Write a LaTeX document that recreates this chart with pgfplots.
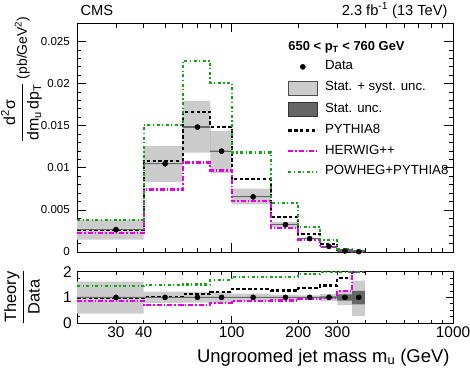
\documentclass[border=0pt]{standalone}
\usepackage{fontspec}
\setmainfont{Liberation Sans}
\usepackage{amsmath}
\usepackage{pgfplots}
\usepackage{pgfplotstable}
\pgfplotsset{compat=1.18}

\definecolor{hwg}{RGB}{230,0,230}
\definecolor{pwg}{RGB}{20,165,20}
\definecolor{syst}{RGB}{204,204,204}
\definecolor{stat}{RGB}{102,102,102}

% MC histograms, one row per bin low edge (last row repeats at 400)
\pgfplotstableread{
edge pythia herwig powheg
20  0.00258 0.00226 0.00377
40  0.01083 0.00742 0.01508
60  0.01663 0.01063 0.02270
80  0.01488 0.00968 0.02012
100 0.00865 0.00603 0.01183
150 0.00417 0.00286 0.00583
200 0.00218 0.00147 0.00298
250 0.00099 0.00060 0.00139
300 0.00028 0.00020 0.00040
350 0.00005 0.00005 0.00010
400 0.00005 0.00005 0.00010
}\mainmc

\pgfplotstableread{
x   y       ex
30  0.00266 10
50  0.01048 10
70  0.01484 10
90  0.01198 10
125 0.00655 25
175 0.00325 25
225 0.00159 25
275 0.00067 25
325 0.00012 25
375 0.00004 25
}\maindata

\pgfplotstableread{
edge pythia herwig powheg
20  0.98  0.86  1.43
40  1.02  0.70  1.48
60  1.12  0.71  1.50
80  1.22  0.79  1.69
100 1.32  0.87  1.80
150 1.27  0.88  1.80
200 1.36  0.93  1.91
250 1.46  0.99  1.975
300 1.74  1.24  1.975
350 1.975 1.975 1.975
400 1.975 1.975 1.975
}\ratiomc

\pgfplotstableread{
x   y ex
30  1 10
50  1 10
70  1 10
90  1 10
125 1 25
175 1 25
225 1 25
275 1 25
325 1 25
375 1 25
}\ratiodata

\begin{document}
\begin{tikzpicture}
\useasboundingbox (0,0) rectangle (470bp,-369bp);

\begin{axis}[at={(77bp,-23bp)}, anchor=north west,
  scale only axis, width=376bp, height=229bp,
  xmode=log, xmin=20, xmax=1000, ymin=0, ymax=0.0272,
  axis line style={line width=0.8bp}, tick style={line width=0.8bp, black},
  tick align=inside, scaled y ticks=false,
  xtick={100,1000}, xticklabels={},
  extra x ticks={30,40,200,300}, extra x tick labels={},
  minor xtick={20,50,60,70,80,90,400,500,600,700,800,900},
  ytick={0,0.005,0.01,0.015,0.02,0.025},
  yticklabels={0,0.005,0.01,0.015,0.02,0.025},
  minor y tick num=4,
  major tick length=9bp, minor tick length=4.5bp,
  extra x tick style={major tick length=4.5bp},
  yticklabel style={font=\fontsize{11.6}{13}\selectfont, inner sep=0pt, xshift=-7bp},
  legend style={at={(axis description cs:0.5585,0.84)}, anchor=north west,
    draw=none, fill=none, inner sep=0pt, row sep=6.7bp, column sep=6.7bp,
    font=\fontsize{13.3}{15}\selectfont,
    nodes={inner sep=0pt, text height=10bp, text depth=4bp}},
  legend cell align=left,
]
% stat. + syst. band: upper edge left to right, lower edge back
\addplot[fill=syst, draw=none, forget plot] coordinates {
  (20,0.00386)(40,0.00386)(40,0.01262)(60,0.01262)(60,0.01794)(80,0.01794)
  (80,0.01440)(100,0.01440)(100,0.00754)(150,0.00754)(150,0.00358)(200,0.00358)
  (200,0.00172)(250,0.00172)(250,0.00076)(300,0.00076)(300,0.00015)(350,0.00015)
  (350,0.00007)(400,0.00007)
  (400,0.00001)(350,0.00001)(350,0.00008)(300,0.00008)(300,0.00058)(250,0.00058)
  (250,0.00146)(200,0.00146)(200,0.00293)(150,0.00293)(150,0.00567)(100,0.00567)
  (100,0.00940)(80,0.00940)(80,0.01179)(60,0.01179)(60,0.00829)(40,0.00829)
  (40,0.00148)(20,0.00148)} -- cycle;
% stat. band
\addplot[fill=stat, draw=none, forget plot] coordinates {
  (20,0.00267)(40,0.00267)(40,0.01052)(60,0.01052)(60,0.01490)(80,0.01490)
  (80,0.01203)(100,0.01203)(100,0.00658)(150,0.00658)(150,0.00327)(200,0.00327)
  (200,0.00160)(250,0.00160)(250,0.00068)(300,0.00068)(300,0.000135)(350,0.000135)
  (350,0.00005)(400,0.00005)
  (400,0.00003)(350,0.00003)(350,0.000105)(300,0.000105)(300,0.00066)(250,0.00066)
  (250,0.00158)(200,0.00158)(200,0.00323)(150,0.00323)(150,0.00652)(100,0.00652)
  (100,0.01193)(80,0.01193)(80,0.01478)(60,0.01478)(60,0.01044)(40,0.01044)
  (40,0.00265)(20,0.00265)} -- cycle;

\addplot[black, line width=2.2bp, dash pattern=on 3.5bp off 2.3bp, const plot, forget plot]
  table[x=edge, y=pythia] {\mainmc};
\addplot[hwg, line width=2.2bp, dash pattern=on 5bp off 2bp on 1.5bp off 2bp, const plot, forget plot]
  table[x=edge, y=herwig] {\mainmc};
\addplot[pwg, line width=2.2bp, dash pattern=on 3bp off 2.5bp on 1.2bp off 2.5bp, const plot, forget plot]
  table[x=edge, y=powheg] {\mainmc};

\addplot[only marks, mark=*, mark size=2.6bp, black, forget plot,
  error bars/.cd, x dir=both, x explicit, error mark=none,
  error bar style={draw=stat, line width=1.2bp}]
  table[x=x, y=y, x error=ex] {\maindata};

\addlegendimage{legend image code/.code={\fill[black] (14.5bp,0bp) circle (2.6bp);}}
\addlegendentry{Data}
\addlegendimage{legend image code/.code={\draw[fill=syst, draw=black!70, line width=0.8bp] (0bp,-7bp) rectangle (29bp,7bp);}}
\addlegendentry{Stat. + syst. unc.}
\addlegendimage{legend image code/.code={\draw[fill=stat, draw=black!80, line width=0.8bp] (0bp,-7bp) rectangle (29bp,7bp);}}
\addlegendentry{Stat. unc.}
\addlegendimage{legend image code/.code={\draw[black, line width=2.2bp, dash pattern=on 3.5bp off 2.3bp] (0bp,0bp) -- (29bp,0bp);}}
\addlegendentry{PYTHIA8}
\addlegendimage{legend image code/.code={\draw[hwg, line width=2.2bp, dash pattern=on 5bp off 2bp on 1.5bp off 2bp] (0bp,0bp) -- (29bp,0bp);}}
\addlegendentry{HERWIG++}
\addlegendimage{legend image code/.code={\draw[pwg, line width=2.2bp, dash pattern=on 3bp off 2.5bp on 1.2bp off 2.5bp] (0bp,0bp) -- (29bp,0bp);}}
\addlegendentry{POWHEG+PYTHIA8}

\node[anchor=base west, font=\bfseries\fontsize{13}{15}\selectfont]
  at (axis description cs:0.553,0.882) {650 < p\textsubscript{T} < 760 GeV};
\end{axis}

\begin{axis}[at={(77bp,-271.7bp)}, anchor=north west,
  scale only axis, width=376bp, height=51.3bp,
  xmode=log, xmin=20, xmax=1000, ymin=0, ymax=2,
  axis line style={line width=0.8bp}, tick style={line width=0.8bp, black},
  tick align=inside,
  xtick={100,1000}, xticklabels={100,1000},
  extra x ticks={30,40,200,300}, extra x tick labels={30,40,200,300},
  minor xtick={20,50,60,70,80,90,400,500,600,700,800,900},
  ytick={0,1,2}, yticklabels={0,1,2}, minor y tick num=3,
  major tick length=7bp, minor tick length=3.5bp,
  extra x tick style={major tick length=3.5bp},
  xticklabel style={font=\fontsize{15.5}{17}\selectfont, inner sep=0pt, yshift=-3.5bp},
  yticklabel style={font=\fontsize{15.5}{17}\selectfont, inner sep=0pt, xshift=-5bp},
]
\addplot[fill=syst, draw=none] coordinates {
  (20,1.61)(40,1.61)(40,1.22)(60,1.22)(60,1.21)(80,1.21)(80,1.20)(100,1.20)
  (100,1.15)(150,1.15)(150,1.10)(200,1.10)(200,1.08)(250,1.08)(250,1.13)(300,1.13)
  (300,1.26)(350,1.26)(350,1.65)(400,1.65)
  (400,0.27)(350,0.27)(350,0.70)(300,0.70)(300,0.86)(250,0.86)(250,0.92)(200,0.92)
  (200,0.90)(150,0.90)(150,0.86)(100,0.86)(100,0.78)(80,0.78)(80,0.79)(60,0.79)
  (60,0.78)(40,0.78)(40,0.37)(20,0.37)} -- cycle;
\addplot[fill=stat, draw=none] coordinates {
  (20,1.015)(200,1.015)(200,1.02)(250,1.02)(250,1.04)(300,1.04)
  (300,1.12)(350,1.12)(350,1.25)(400,1.25)
  (400,0.73)(350,0.73)(350,0.87)(300,0.87)(300,0.96)(250,0.96)(250,0.98)(200,0.98)
  (200,0.985)(20,0.985)} -- cycle;

\addplot[black, line width=2.2bp, dash pattern=on 3.5bp off 2.3bp, const plot]
  table[x=edge, y=pythia] {\ratiomc};
\addplot[hwg, line width=2.2bp, dash pattern=on 5bp off 2bp on 1.5bp off 2bp, const plot]
  table[x=edge, y=herwig] {\ratiomc};
\addplot[pwg, line width=2.2bp, dash pattern=on 3bp off 2.5bp on 1.2bp off 2.5bp, const plot]
  table[x=edge, y=powheg] {\ratiomc};

\addplot[only marks, mark=*, mark size=2.6bp, black,
  error bars/.cd, x dir=both, x explicit, error mark=none,
  error bar style={draw=stat, line width=1.2bp}]
  table[x=x, y=y, x error=ex] {\ratiodata};
\end{axis}

\node[anchor=base west, font=\fontsize{14.7}{16}\selectfont] at (77bp,-15bp) {CMS};
\node[anchor=base east, font=\fontsize{14.7}{16}\selectfont] at (451bp,-15bp) {2.3 fb\textsuperscript{-1} (13 TeV)};
\node[anchor=base east, font=\fontsize{18.5}{20}\selectfont] at (453bp,-362bp) {Ungroomed jet mass m\textsubscript{u} (GeV)};
\node[rotate=90, anchor=east, font=\fontsize{14}{17}\selectfont] at (21.5bp,-13bp)
  {{\fontsize{16}{18}\selectfont$\dfrac{\text{d\textsuperscript{2}σ}}{\text{dm\textsubscript{u}\,dp\textsubscript{T}}}$} (pb/GeV\textsuperscript{2})};
\node[rotate=90, anchor=center, font=\fontsize{16.5}{18}\selectfont] at (22bp,-297bp)
  {$\dfrac{\text{Theory}}{\text{Data}}$};
\end{tikzpicture}
\end{document}
